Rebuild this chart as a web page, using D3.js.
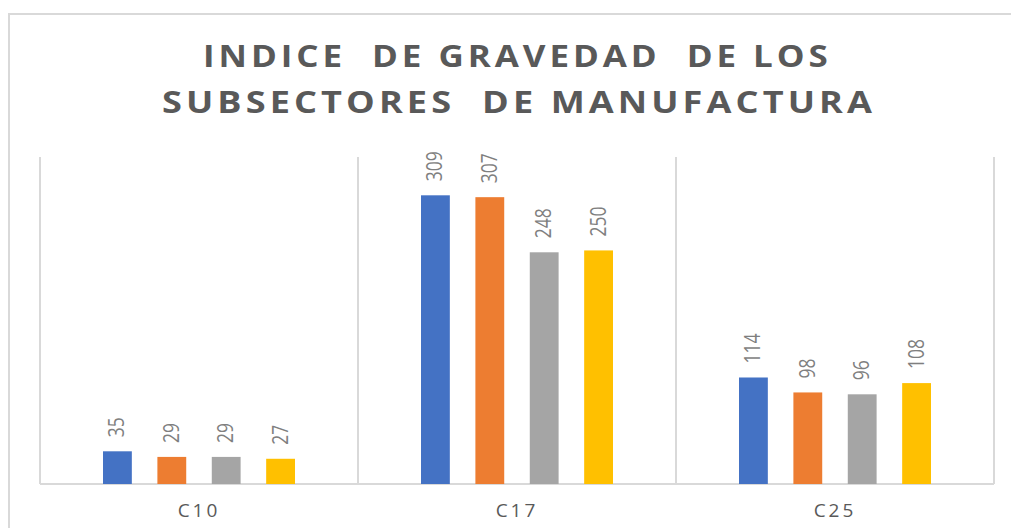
<!DOCTYPE html>
<html>
<head>
<meta charset="utf-8">
<script src="https://cdn.jsdelivr.net/npm/d3@7"></script>
<style>
  body { margin: 0; background: #fff; }
  svg { display: block; }
</style>
</head>
<body>
<div id="chart"></div>
<script>
// données du graphique
const categories = ['C10', 'C17', 'C25'];
const seriesNames = ['S1', 'S2', 'S3', 'S4'];
const serie1 = [35, 309, 114];
const serie2 = [29, 307, 98];
const serie3 = [29, 248, 96];
const serie4 = [27, 250, 108];
const couleurs = ['#4472C4', '#ED7D31', '#A5A5A5', '#FFC000'];
const titre = ['INDICE  DE GRAVEDAD  DE LOS', 'SUBSECTORES  DE MANUFACTURA'];

const allSeries = [serie1, serie2, serie3, serie4];

const width = 1011;
const height = 528;
const margin = { top: 157, right: 17, bottom: 44, left: 40 };

const svg = d3
  .select('#chart')
  .append('svg')
  .attr('width', width)
  .attr('height', height);

// cadre extérieur
svg.append('path')
  .attr('d', `M9,${height} V14 H${width}`)
  .attr('fill', 'none')
  .attr('stroke', '#d9d9d9')
  .attr('stroke-width', 2);

// titre (glyphes étroits + espacement, comme dans l'original)
const titleLines = [
  { text: titre[0], y: 67, x0: 203, x1: 828 },
  { text: titre[1], y: 113, x0: 162, x1: 872 },
];
const ls = 3.5;
svg.selectAll('.title')
  .data(titleLines)
  .enter()
  .append('text')
  .attr('class', 'title')
  .style('font-family', '"Open Sans", sans-serif')
  .style('font-weight', 'bold')
  .style('font-size', '31px')
  .style('letter-spacing', ls + 'px')
  .style('white-space', 'pre')
  .style('fill', '#595959')
  .text((d) => d.text)
  .attr('transform', function (d) {
    const len = this.getComputedTextLength() - ls;
    const sx = (d.x1 - d.x0) / len;
    return `translate(${d.x0},${d.y}) scale(${sx},1)`;
  });

const plotW = width - margin.left - margin.right;
const plotH = height - margin.top - margin.bottom;

const g = svg.append('g')
  .attr('transform', `translate(${margin.left},${margin.top})`);

const x0 = d3.scaleBand()
  .domain(categories)
  .range([0, plotW])
  .paddingInner(0)
  .paddingOuter(0);

const x1 = d3.scaleBand()
  .domain(seriesNames)
  .range([63, x0.bandwidth() - 63])
  .paddingInner(0.47)
  .paddingOuter(0);

const y = d3.scaleLinear()
  .domain([0, 350])
  .range([plotH, 0]);

// lignes verticales entre catégories
const bornes = categories.map((c) => x0(c)).concat([plotW]);
g.selectAll('.grid')
  .data(bornes)
  .enter()
  .append('line')
  .attr('x1', (d) => d)
  .attr('x2', (d) => d)
  .attr('y1', 0)
  .attr('y2', plotH)
  .attr('stroke', '#d9d9d9')
  .attr('stroke-width', 2);

// axe horizontal
g.append('line')
  .attr('x1', 0)
  .attr('x2', plotW)
  .attr('y1', plotH)
  .attr('y2', plotH)
  .attr('stroke', '#d9d9d9')
  .attr('stroke-width', 2);

// barres
const groups = g.selectAll('.cat')
  .data(categories)
  .enter()
  .append('g')
  .attr('class', 'cat')
  .attr('transform', (d) => `translate(${x0(d)},0)`);

const barData = (c, ci) => seriesNames.map((s, si) => ({ s, si, v: allSeries[si][ci] }));

groups.each(function (c, ci) {
  const grp = d3.select(this);
  const data = barData(c, ci);

  grp.selectAll('rect')
    .data(data)
    .enter()
    .append('rect')
    .attr('x', (d) => x1(d.s))
    .attr('y', (d) => y(d.v))
    .attr('width', x1.bandwidth())
    .attr('height', (d) => plotH - y(d.v))
    .attr('fill', (d) => couleurs[d.si]);

  grp.selectAll('.label')
    .data(data)
    .enter()
    .append('text')
    .attr('class', 'label')
    .attr('transform', (d) =>
      `translate(${x1(d.s) + x1.bandwidth() / 2 + 7},${y(d.v) - 14}) rotate(-90)`)
    .attr('textLength', (d) => String(d.v).length * 10)
    .attr('lengthAdjust', 'spacingAndGlyphs')
    .style('font-family', '"Open Sans", sans-serif')
    .style('font-size', '21px')
    .style('fill', '#7f7f7f')
    .text((d) => d.v);
});

// étiquettes des catégories
g.selectAll('.catlabel')
  .data(categories)
  .enter()
  .append('text')
  .attr('class', 'catlabel')
  .attr('x', (d) => x0(d) + x0.bandwidth() / 2)
  .attr('y', plotH + 33)
  .attr('text-anchor', 'middle')
  .style('font-family', '"Open Sans", sans-serif')
  .style('font-size', '19px')
  .style('letter-spacing', '3px')
  .style('fill', '#595959')
  .text((d) => d);
</script>
</body>
</html>
